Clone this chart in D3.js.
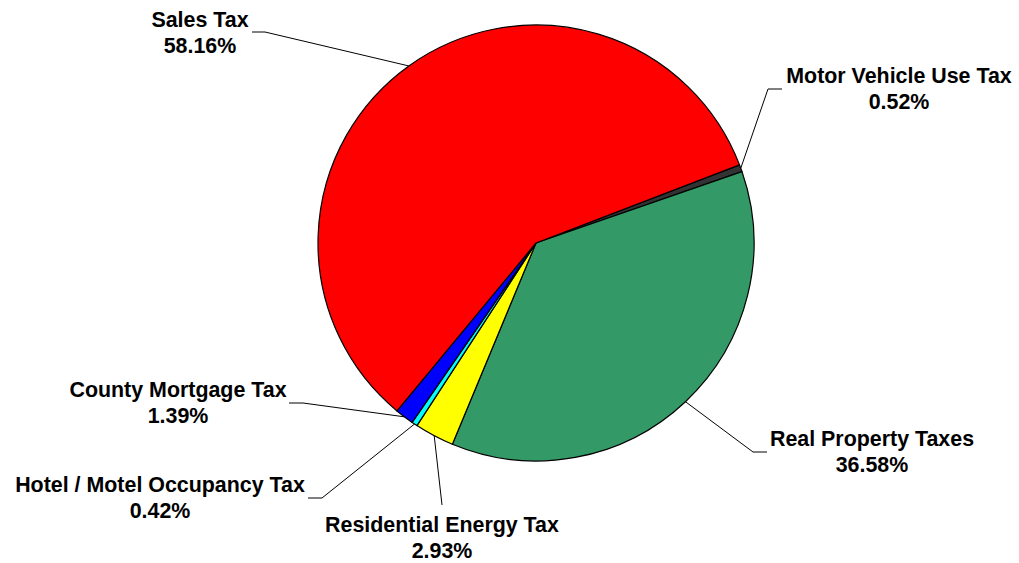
<!DOCTYPE html>
<html>
<head>
<meta charset="utf-8">
<script src="https://cdn.jsdelivr.net/npm/d3@7/dist/d3.min.js"></script>
<style>
  html, body { margin: 0; padding: 0; background: #fff; }
  svg { display: block; }
  .lbl { font-family: "Liberation Sans", Arial, sans-serif; font-weight: bold; font-size: 21.4px; fill: #000; }
</style>
</head>
<body>
<svg id="chart" width="1019" height="563"></svg>
<script>
// Revenue sources (percent of total), drawn clockwise
const categories = ["Motor Vehicle Use Tax", "Real Property Taxes", "Residential Energy Tax",
                    "Hotel / Motel Occupancy Tax", "County Mortgage Tax", "Sales Tax"];
const shares = [0.52, 36.58, 2.93, 0.42, 1.39, 58.16];
const percentLabels = ["0.52%", "36.58%", "2.93%", "0.42%", "1.39%", "58.16%"];
const sliceColors = ["#333333", "#339966", "#FFFF00", "#00FFFF", "#0000FF", "#FF0000"];

// Label placement: text centre / first baseline, leader elbow and tail end
const labelLayout = [
  { x: 899, y: 83,  elbow: [768, 89],  tail: [782, 89] },
  { x: 872, y: 446, elbow: [753, 452], tail: [767, 452] },
  { x: 442, y: 532, elbow: [442, 505], tail: null },
  { x: 160, y: 492, elbow: [322, 498], tail: [308, 498] },
  { x: 178, y: 397, elbow: [303, 403], tail: [289, 403] },
  { x: 200, y: 27,  elbow: [265, 32],  tail: [252, 32] }
];

const cx = 536, cy = 243, radius = 218;
const startDeg = 69;

const svg = d3.select("#chart");
const g = svg.append("g").attr("transform", `translate(${cx},${cy})`);

const data = categories.map((c, i) => ({ name: c, value: shares[i], pct: percentLabels[i], color: sliceColors[i], layout: labelLayout[i] }));

const pie = d3.pie()
  .value(d => d.value)
  .sort(null)
  .startAngle(startDeg * Math.PI / 180)
  .endAngle(startDeg * Math.PI / 180 + 2 * Math.PI);

const arcs = pie(data);
const arc = d3.arc().innerRadius(0).outerRadius(radius);

g.selectAll("path.slice")
  .data(arcs)
  .join("path")
  .attr("class", "slice")
  .attr("d", arc)
  .attr("fill", d => d.data.color)
  .attr("stroke", "#000")
  .attr("stroke-width", 1.2)
  .attr("stroke-linejoin", "round");

// Leader lines from each slice's outer mid-point to its label
const leaders = svg.append("g");
arcs.forEach(a => {
  const mid = (a.startAngle + a.endAngle) / 2;
  const px = cx + radius * Math.sin(mid);
  const py = cy - radius * Math.cos(mid);
  const L = a.data.layout;
  const pts = [[px, py], L.elbow];
  if (L.tail) pts.push(L.tail);
  leaders.append("path")
    .attr("d", d3.line()(pts))
    .attr("fill", "none")
    .attr("stroke", "#000")
    .attr("stroke-width", 1);
});

// Labels: name and percentage on two lines
const labels = svg.append("g");
arcs.forEach(a => {
  const L = a.data.layout;
  const t = labels.append("text")
    .attr("class", "lbl")
    .attr("text-anchor", "middle")
    .attr("x", L.x)
    .attr("y", L.y);
  t.append("tspan").attr("x", L.x).text(a.data.name);
  t.append("tspan").attr("x", L.x).attr("dy", 25.5).text(a.data.pct);
});
</script>
</body>
</html>
